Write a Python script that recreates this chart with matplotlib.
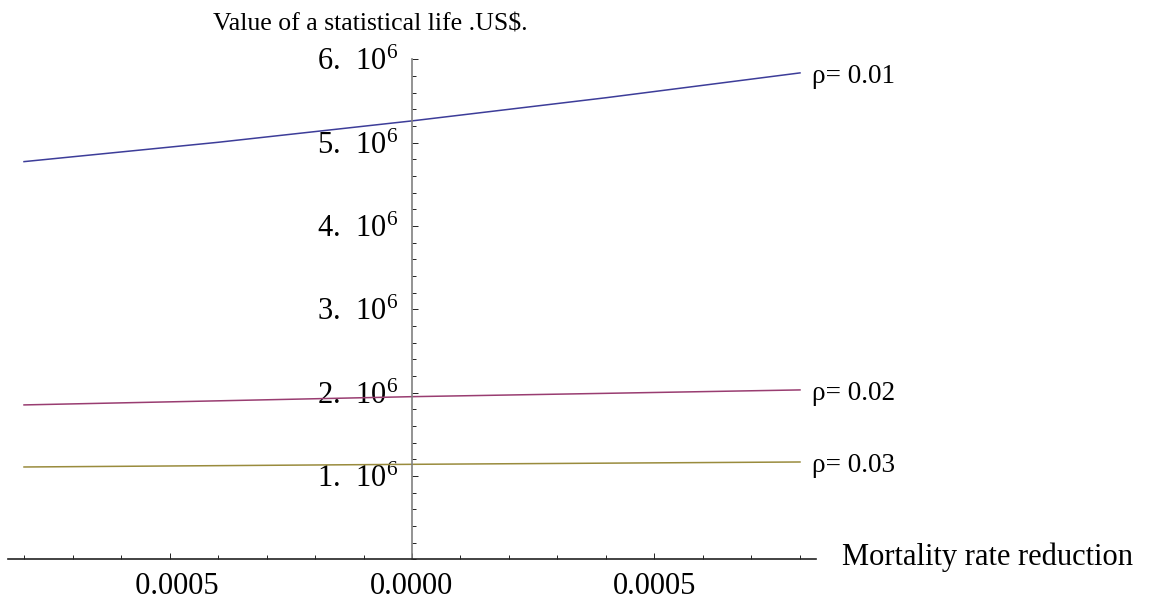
import numpy as np
import matplotlib.pyplot as plt
from matplotlib.ticker import MultipleLocator, FixedLocator

# ================= data ===============================
mortality = [-0.0008, -0.0004, 0.0, 0.0004, 0.0008]
vsl_rho01 = [4.773e6, 5.005e6, 5.262e6, 5.540e6, 5.838e6]
vsl_rho02 = [1.853e6, 1.902e6, 1.952e6, 1.992e6, 2.033e6]
vsl_rho03 = [1.108e6, 1.124e6, 1.140e6, 1.154e6, 1.168e6]

series_labels = ['ρ= 0.01', 'ρ= 0.02', 'ρ= 0.03']
x_ticks = [-0.0005, 0.0, 0.0005]
x_tick_labels = ['  0.0005', '0.0000', '0.0005']
y_ticks = [1e6, 2e6, 3e6, 4e6, 5e6, 6e6]
y_tick_labels = [r'$\mathregular{%d.\ \,10^{6}}$' % k for k in range(1, 7)]

# mathematica default colours
colors = [(0.24, 0.24, 0.6), (0.6, 0.24, 0.442), (0.6, 0.547, 0.24)]

# ================= style ==============================
plt.rcParams['font.family'] = ['Liberation Serif', 'DejaVu Serif']
plt.rcParams['mathtext.fontset'] = 'custom'
plt.rcParams['mathtext.rm'] = 'Liberation Serif'
plt.rcParams['mathtext.it'] = 'Liberation Serif:italic'

fig = plt.figure(figsize=(11.54, 6.07), dpi=100)
ax = fig.add_axes([8 / 1154, 1 - 559.3 / 607, 808 / 1154, 499.9 / 607])

for vals, c in zip([vsl_rho01, vsl_rho02, vsl_rho03], colors):
    ax.plot(mortality, vals, color=c, lw=1.1)

for vals, lab in zip([vsl_rho01, vsl_rho02, vsl_rho03], series_labels):
    ax.annotate(lab, xy=(mortality[-1], vals[-1]), xytext=(9, -7),
                textcoords='offset points', ha='left', va='baseline', fontsize=19.5)

ax.set_xlim(-0.000833, 0.000833)
ax.set_ylim(0, 6e6)

# axes through origin
ax.spines['left'].set_position(('data', 0))
ax.spines['bottom'].set_position(('data', 0))
ax.spines['right'].set_visible(False)
ax.spines['top'].set_visible(False)
ax.spines['left'].set_color('#808080')
ax.spines['bottom'].set_color('#222222')
ax.spines['left'].set_linewidth(1.2)
ax.spines['bottom'].set_linewidth(1.2)

ax.xaxis.set_major_locator(FixedLocator(x_ticks))
ax.set_xticklabels(x_tick_labels)
ax.xaxis.set_minor_locator(MultipleLocator(0.0001))
ax.yaxis.set_major_locator(FixedLocator(y_ticks))
ax.set_yticklabels(y_tick_labels)
ax.yaxis.set_minor_locator(MultipleLocator(2e5))

ax.tick_params(axis='x', which='both', direction='in', colors='#222222', labelcolor='black',
               labelsize=22, pad=9)
ax.tick_params(axis='y', which='both', direction='in', colors='#222222', labelcolor='black',
               labelsize=22, pad=10)
ax.tick_params(which='major', length=4.3, width=0.7)
ax.tick_params(which='minor', length=2.6, width=0.7)

# axis labels
fig.text(842 / 1154, 1 - 557 / 607, 'Mortality rate reduction', fontsize=22,
         ha='left', va='center')
fig.text(213 / 1154, 1 - 30 / 607, 'Value of a statistical life .US$.', fontsize=18.5,
         ha='left', va='baseline')

fig.savefig('out.png', dpi=100)
